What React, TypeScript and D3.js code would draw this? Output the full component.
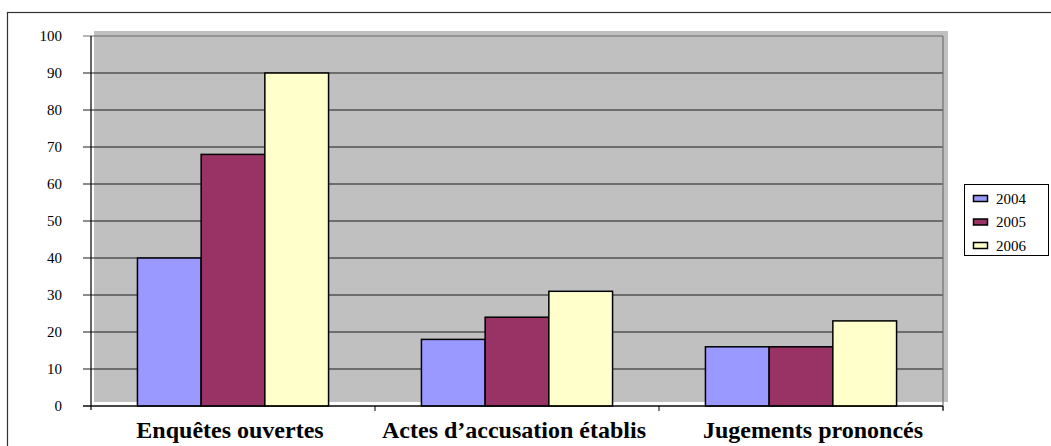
import React from "react";
import * as d3 from "d3";

const categories = ["Enquêtes ouvertes", "Actes d’accusation établis", "Jugements prononcés"];
const seriesNames = ["2004", "2005", "2006"];
const values2004 = [40, 18, 16];
const values2005 = [68, 24, 16];
const values2006 = [90, 31, 23];
const seriesColors = ["#9999FF", "#993366", "#FFFFCC"];
const yTicks = [0, 10, 20, 30, 40, 50, 60, 70, 80, 90, 100];

export default function App() {
  const W = 1051, H = 446;
  const left = 91, right = 943, top = 36, bottom = 406;
  const labelShift = [-3, -3, 12];
  const x0 = d3.scaleBand<string>().domain(categories).range([left, right]).paddingInner(0).paddingOuter(0);
  const groupW = x0.bandwidth();
  const barsW = groupW * 0.673;
  const x1 = d3.scaleBand<string>().domain(seriesNames).range([0, barsW]);
  const y = d3.scaleLinear().domain([0, 100]).range([bottom, top]);
  const seriesValues = [values2004, values2005, values2006];
  const font = "Liberation Serif, Times New Roman, DejaVu Serif, serif";

  return (
    <svg width={W} height={H} style={{ position: "absolute", left: 0, top: 0, fontFamily: font }}>
      <rect x={0} y={0} width={W} height={H} fill="#fff" />
      <rect x={7.5} y={12.5} width={1100} height={500} fill="none" stroke="#333" strokeWidth={1.2} />
      {/* plot wall */}
      <rect x={left + 3} y={top - 5} width={right - left + 2} height={bottom - top + 1} fill="#C0C0C0" />
      {/* gridlines */}
      {yTicks.map((t) => (
        <line key={"g" + t} x1={left - 8} x2={right} y1={y(t)} y2={y(t)}
          stroke={t === 100 ? "#6a6a6a" : "#1a1a1a"} strokeWidth={1.2} />
      ))}
      <line x1={right} x2={right} y1={top} y2={bottom + 4} stroke="#707070" strokeWidth={1.2} />
      {/* y axis */}
      <line x1={left} x2={left} y1={top} y2={bottom + 4} stroke="#000" strokeWidth={1.2} />
      {yTicks.map((t) => (
        <text key={"t" + t} x={62} y={y(t)} dy="0.35em" textAnchor="end" fontSize={15} fill="#000" style={{ fontFamily: font }}>{t}</text>
      ))}
      {/* bars */}
      {categories.map((c, ci) => {
        const gx = (x0(c) as number) + (groupW - barsW) / 2;
        return seriesNames.map((s, si) => {
          const v = seriesValues[si][ci];
          return (
            <rect key={c + s} x={gx + (x1(s) as number)} y={y(v)} width={x1.bandwidth()}
              height={y(0) - y(v)} fill={seriesColors[si]} stroke="#000" strokeWidth={1.5} />
          );
        });
      })}
      {/* x axis */}
      <line x1={left - 8} x2={right} y1={bottom} y2={bottom} stroke="#000" strokeWidth={1.2} />
      {categories.map((c) => (
        <line key={"xt" + c} x1={(x0(c) as number) + groupW} x2={(x0(c) as number) + groupW}
          y1={bottom} y2={bottom + 5} stroke="#000" strokeWidth={1} />
      ))}
      {categories.map((c, ci) => (
        <text key={"xl" + c} x={(x0(c) as number) + groupW / 2 + labelShift[ci]} y={438} textAnchor="middle"
          fontSize={24} fontWeight="bold" fill="#000" style={{ fontFamily: font }}>{c}</text>
      ))}
      {/* legend */}
      <rect x={964.5} y={184.5} width={84} height={71} fill="#fff" stroke="#000" strokeWidth={1} />
      {seriesNames.map((s, i) => (
        <g key={"lg" + s}>
          <rect x={973.5} y={195.5 + i * 23.5} width={14} height={6} fill={seriesColors[i]} stroke="#000" strokeWidth={1.5} />
          <text x={996} y={198.5 + i * 23.5} dy="0.35em" fontSize={15} fill="#000" style={{ fontFamily: font }}>{s}</text>
        </g>
      ))}
    </svg>
  );
}
